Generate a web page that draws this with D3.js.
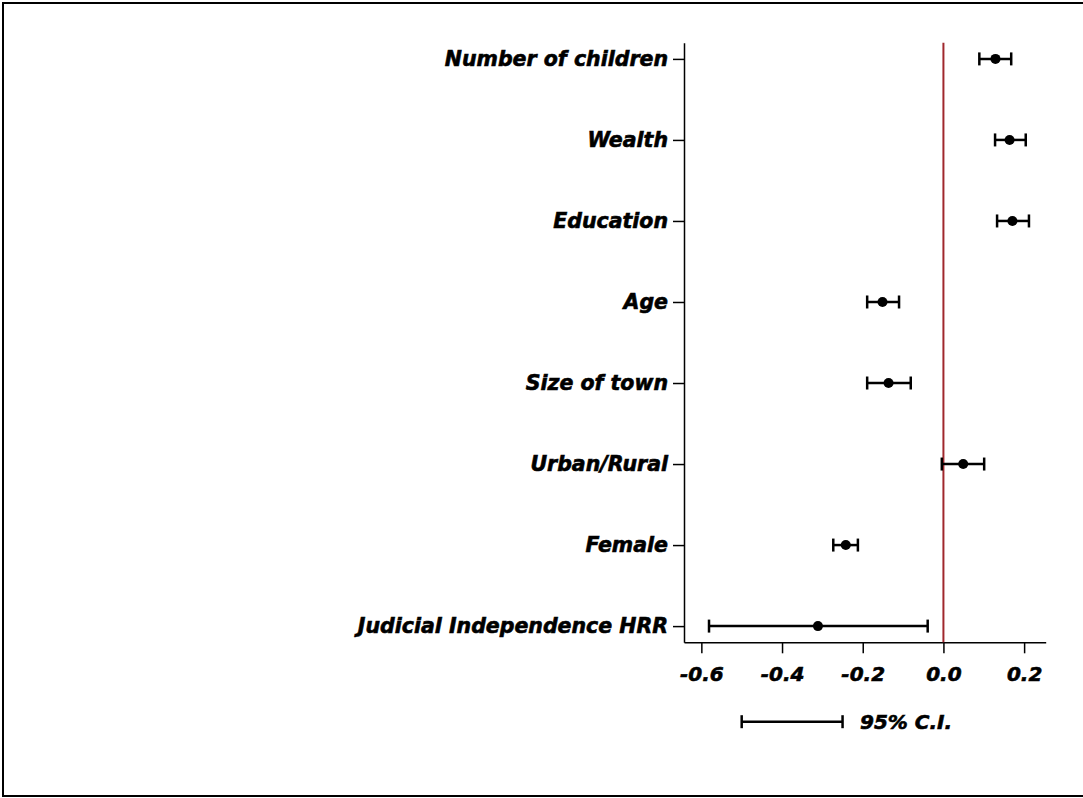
<!DOCTYPE html>
<html>
<head>
<meta charset="utf-8">
<script src="https://cdn.jsdelivr.net/npm/d3@7"></script>
<style>
  body { margin: 0; background: #fff; }
  text { font-family: "DejaVu Sans", sans-serif; font-weight: bold; font-style: italic;
         stroke: #000; stroke-width: 0.6px; }
</style>
</head>
<body>
<div class="chart"></div>
<script>
var svgWidth = 1083;
var svgHeight = 798;

// coefficients with 95% confidence intervals
var labels = ["Number of children", "Wealth", "Education", "Age", "Size of town",
  "Urban/Rural", "Female", "Judicial Independence HRR"];
var estimates = [0.129, 0.164, 0.171, -0.151, -0.136, 0.049, -0.242, -0.311];
var lower = [0.089, 0.128, 0.133, -0.189, -0.189, -0.004, -0.273, -0.581];
var upper = [0.168, 0.204, 0.212, -0.110, -0.081, 0.101, -0.212, -0.039];
var xTicks = [-0.6, -0.4, -0.2, 0.0, 0.2];
var legendCI = [-0.5, -0.25];

var data = labels.map(function(d, i) {
  return { label: d, est: estimates[i], lo: lower[i], hi: upper[i] };
});

var svg = d3.select(".chart")
  .append("svg")
  .attr("width", svgWidth)
  .attr("height", svgHeight);

// outer frame
svg.append("rect")
  .attr("x", 3)
  .attr("y", 3)
  .attr("width", svgWidth + 10)
  .attr("height", svgHeight - 5)
  .attr("fill", "none")
  .attr("stroke", "#000")
  .attr("stroke-width", 2);

var xScale = d3.scaleLinear()
  .domain([-0.643, 0.2535])
  .range([684, 1045.7]);

var yScale = d3.scalePoint()
  .domain(labels)
  .range([42.7, 642.3])
  .padding(0.2);

// axes
var xAxis = svg.append("g")
  .attr("transform", "translate(0, 642.3)")
  .call(d3.axisBottom(xScale).tickValues(xTicks).tickSize(11).tickSizeOuter(0)
    .tickFormat(d3.format(".1f")).tickPadding(14));

var yAxis = svg.append("g")
  .attr("transform", "translate(684, 0)")
  .call(d3.axisLeft(yScale).tickSize(11).tickSizeOuter(0).tickPadding(5));

svg.selectAll(".domain, .tick line")
  .attr("stroke", "#000")
  .attr("stroke-width", 1.5);

xAxis.selectAll(".tick text")
  .attr("fill", "#000")
  .style("font-size", "20px")
  .text(function(d) { return d3.format(".1f")(d).replace("−", "-"); });

yAxis.selectAll(".tick text")
  .attr("fill", "#000")
  .style("font-size", "20.5px");

// reference line at zero
svg.append("line")
  .attr("x1", xScale(0))
  .attr("x2", xScale(0))
  .attr("y1", 42.7)
  .attr("y2", 642.3)
  .attr("stroke", "#a0282d")
  .attr("stroke-width", 2);

// error bars
var bars = svg.append("g").selectAll("g")
  .data(data)
  .enter()
  .append("g");

bars.append("line")
  .attr("x1", d => xScale(d.lo))
  .attr("x2", d => xScale(d.hi))
  .attr("y1", d => yScale(d.label))
  .attr("y2", d => yScale(d.label))
  .attr("stroke", "#000")
  .attr("stroke-width", 2.5);

bars.selectAll(".cap")
  .data(d => [d.lo, d.hi].map(v => ({ v: v, label: d.label })))
  .enter()
  .append("line")
  .attr("x1", d => xScale(d.v))
  .attr("x2", d => xScale(d.v))
  .attr("y1", d => yScale(d.label) - 6.5)
  .attr("y2", d => yScale(d.label) + 6.5)
  .attr("stroke", "#000")
  .attr("stroke-width", 2.5);

bars.append("circle")
  .attr("cx", d => xScale(d.est))
  .attr("cy", d => yScale(d.label))
  .attr("r", 5)
  .attr("fill", "#000");

// legend
var legendY = 721.7;
var legend = svg.append("g");
legend.append("line")
  .attr("x1", xScale(legendCI[0]))
  .attr("x2", xScale(legendCI[1]))
  .attr("y1", legendY)
  .attr("y2", legendY)
  .attr("stroke", "#000")
  .attr("stroke-width", 2.5);
legend.selectAll(".cap")
  .data(legendCI)
  .enter()
  .append("line")
  .attr("x1", d => xScale(d))
  .attr("x2", d => xScale(d))
  .attr("y1", legendY - 6.5)
  .attr("y2", legendY + 6.5)
  .attr("stroke", "#000")
  .attr("stroke-width", 2.5);
legend.append("text")
  .attr("x", 860)
  .attr("y", legendY)
  .attr("dy", "0.35em")
  .style("font-size", "20px")
  .text("95% C.I.");
</script>
</body>
</html>
